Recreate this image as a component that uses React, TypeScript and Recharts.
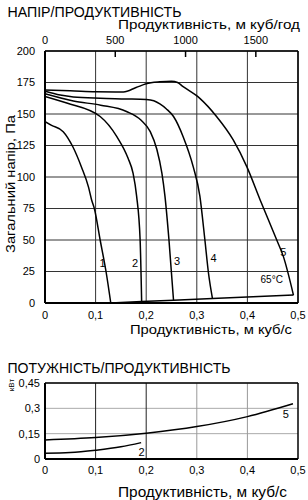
import React from 'react';
import { LineChart, Line, XAxis, YAxis, CartesianGrid, ReferenceLine, ReferenceDot } from 'recharts';

const FONT = 'Liberation Sans, Arial, sans-serif';

const flowTicks = [0, 0.1, 0.2, 0.3, 0.4, 0.5];
const flowHourTicks = [0, 500, 1000, 1500];
const flowHourMax = 1800;
const pressureTicks = [0, 25, 50, 75, 100, 125, 150, 175, 200];
const powerTicks = [0, 0.15, 0.3, 0.45];

const curve1Flow = [0, 0.013, 0.036, 0.055, 0.072, 0.086, 0.092, 0.0975, 0.109, 0.1206, 0.13];
const curve1Pressure = [144, 141, 136, 124, 108, 92, 82, 75, 50, 25, 0];

const curve2Flow = [0, 0.043, 0.109, 0.142, 0.164, 0.174, 0.181, 0.188, 0.191];
const curve2Pressure = [164, 158.7, 148, 132, 115, 103, 85, 50, 1.1];

const curve3Flow = [0, 0.056, 0.11, 0.161, 0.19, 0.208, 0.221, 0.231, 0.237, 0.245, 0.254];
const curve3Pressure = [166, 160.3, 157, 152, 145, 136, 122, 103, 85, 50, 2.2];

const curve4Flow = [0, 0.03, 0.056, 0.109, 0.16, 0.2, 0.215, 0.227, 0.24, 0.254, 0.273, 0.293, 0.306, 0.316, 0.323, 0.331];
const curve4Pressure = [168, 165, 163.5, 162.5, 162, 161.5, 160.5, 158, 154, 148, 132, 108, 85, 50, 24, 3.5];

const curve5Flow = [0, 0.05, 0.1, 0.155, 0.18, 0.2, 0.227, 0.25, 0.262, 0.273, 0.306, 0.339, 0.372, 0.399, 0.425, 0.458, 0.471, 0.491];
const curve5Pressure = [169, 168.5, 167.7, 167.5, 171, 174, 175.5, 176, 175, 171.7, 162.4, 148, 129.4, 108, 82, 50, 37, 6.3];

const systemFlow = [0.13, 0.191, 0.254, 0.331, 0.491];
const systemPressure = [0, 1.1, 2.2, 3.5, 6.3];

const power5Flow = [0, 0.1, 0.2, 0.3, 0.4, 0.49];
const power5Value = [0.113, 0.127, 0.153, 0.192, 0.251, 0.327];

const power2Flow = [0, 0.05, 0.1, 0.15, 0.19];
const power2Value = [0.034, 0.038, 0.052, 0.072, 0.097];

const curveLabels = ['1', '2', '3', '4', '5'];
const curveLabelFlow = [0.114, 0.178, 0.261, 0.333, 0.471];
const curveLabelPressure = [31.7, 32, 33.6, 35.7, 40.7];

const tempLabel = '65°C';
const tempLabelFlow = 0.448;
const tempLabelPressure = 18.3;

const powerLabels = ['5', '2'];
const powerLabelFlow = [0.476, 0.191];
const powerLabelValue = [0.267, 0.043];

const zip = (xs: number[], ys: number[]) => xs.map((x, i) => ({ x, y: ys[i] }));

const pressureCurves = [
  zip(curve1Flow, curve1Pressure),
  zip(curve2Flow, curve2Pressure),
  zip(curve3Flow, curve3Pressure),
  zip(curve4Flow, curve4Pressure),
  zip(curve5Flow, curve5Pressure),
];
const systemData = zip(systemFlow, systemPressure);
const powerCurves = [zip(power5Flow, power5Value), zip(power2Flow, power2Value)];
const hourAnchor = [{ hx: 0, y: null }, { hx: flowHourMax, y: null }];

const comma = (v: number) => String(v).replace('.', ',');

const renderTopTick = (props: any) => {
  const { x, y, payload } = props;
  return (
    <g key={`tt-${payload.value}`}>
      <text x={x} y={y} textAnchor="middle" fontSize={11} fontFamily={FONT} fill="#000">
        {payload.value}
      </text>
      {payload.value !== 0 ? (
        <line x1={x} x2={x} y1={y + 7} y2={y + 13} stroke="#000" strokeWidth={1.5} />
      ) : null}
    </g>
  );
};

const tickStyle = { fill: '#000', fontSize: 11, fontFamily: FONT };

export default function App() {
  return (
    <div style={{ position: 'absolute', left: 0, top: 0, width: 308, height: 500, background: '#fff', fontFamily: FONT }}>
      <div style={{ position: 'absolute', left: 0, top: 0 }}>
        <LineChart width={308} height={340} margin={{ top: 31, right: 10, bottom: 7, left: 10 }}>
          <CartesianGrid xAxisId="bottom" stroke="#333" strokeWidth={1} />
          <XAxis
            xAxisId="bottom"
            dataKey="x"
            type="number"
            domain={[0, 0.5]}
            ticks={flowTicks}
            tickFormatter={comma}
            height={30}
            tickLine={false}
            tickSize={6}
            tickMargin={2}
            axisLine={{ stroke: '#000', strokeWidth: 2 }}
            tick={tickStyle}
            allowDataOverflow
          />
          <XAxis
            xAxisId="top"
            orientation="top"
            dataKey="hx"
            type="number"
            domain={[0, flowHourMax]}
            ticks={flowHourTicks}
            height={20}
            tickLine={false}
            tickSize={0}
            tickMargin={7}
            axisLine={{ stroke: '#000', strokeWidth: 1.5 }}
            tick={renderTopTick}
            allowDataOverflow
          />
          <YAxis
            type="number"
            domain={[0, 200]}
            ticks={pressureTicks}
            width={35}
            tickLine={false}
            tickSize={6}
            tickMargin={4}
            axisLine={{ stroke: '#000', strokeWidth: 2 }}
            tick={tickStyle}
            allowDataOverflow
          />
          <Line
            xAxisId="top"
            data={hourAnchor}
            dataKey="y"
            stroke="none"
            dot={false}
            activeDot={false}
            legendType="none"
            isAnimationActive={false}
          />
          <ReferenceLine xAxisId="bottom" x={0.5} stroke="#000" strokeWidth={1.5} />
          {pressureCurves.map((d, i) => (
            <Line
              key={i}
              xAxisId="bottom"
              data={d}
              dataKey="y"
              type="monotone"
              stroke="#000"
              strokeWidth={1.5}
              dot={false}
              isAnimationActive={false}
            />
          ))}
          <Line
            xAxisId="bottom"
            data={systemData}
            dataKey="y"
            type="linear"
            stroke="#000"
            strokeWidth={1.5}
            dot={false}
            isAnimationActive={false}
          />
          {curveLabels.map((l, i) => (
            <ReferenceDot
              key={l}
              xAxisId="bottom"
              x={curveLabelFlow[i]}
              y={curveLabelPressure[i]}
              r={0}
              fill="none"
              stroke="none"
              label={{ value: l, position: 'center', fontSize: 11, fill: '#000', fontFamily: FONT }}
            />
          ))}
          <ReferenceDot
            xAxisId="bottom"
            x={tempLabelFlow}
            y={tempLabelPressure}
            r={0}
            fill="none"
            stroke="none"
            label={{ value: tempLabel, position: 'center', fontSize: 10, fill: '#000', fontFamily: FONT }}
          />
        </LineChart>
      </div>
      <div style={{ position: 'absolute', left: 0, top: 350 }}>
        <LineChart width={308} height={150} margin={{ top: 33, right: 10, bottom: 21, left: 10 }}>
          <CartesianGrid stroke="#aaa" vertical={false} />
          <XAxis
            dataKey="x"
            type="number"
            domain={[0, 0.5]}
            ticks={flowTicks}
            tickFormatter={comma}
            height={20}
            tickLine={false}
            tickSize={6}
            tickMargin={1}
            axisLine={{ stroke: '#000', strokeWidth: 2 }}
            tick={tickStyle}
            allowDataOverflow
          />
          <YAxis
            type="number"
            domain={[0, 0.45]}
            ticks={powerTicks}
            tickFormatter={comma}
            width={35}
            tickLine={false}
            tickSize={5}
            tickMargin={0}
            axisLine={{ stroke: '#000', strokeWidth: 2 }}
            tick={tickStyle}
            allowDataOverflow
          />
          <ReferenceLine x={0.1} stroke="#222" />
          <ReferenceLine x={0.2} stroke="#222" />
          <ReferenceLine x={0.3} stroke="#999" />
          <ReferenceLine x={0.4} stroke="#999" />
          <ReferenceLine x={0.5} stroke="#000" strokeWidth={1.5} />
          <ReferenceLine y={0.45} stroke="#000" strokeWidth={1.5} />
          {powerCurves.map((d, i) => (
            <Line
              key={i}
              data={d}
              dataKey="y"
              type="monotone"
              stroke="#000"
              strokeWidth={1.5}
              dot={false}
              isAnimationActive={false}
            />
          ))}
          {powerLabels.map((l, i) => (
            <ReferenceDot
              key={l}
              x={powerLabelFlow[i]}
              y={powerLabelValue[i]}
              r={0}
              fill="none"
              stroke="none"
              label={{ value: l, position: 'center', fontSize: 11, fill: '#000', fontFamily: FONT }}
            />
          ))}
        </LineChart>
      </div>
      <svg width={308} height={500} style={{ position: 'absolute', left: 0, top: 0, pointerEvents: 'none' }}>
        <text x={7.5} y={17.3} fontSize={14.5} fontFamily={FONT} textLength={174} lengthAdjust="spacingAndGlyphs">НАПІР/ПРОДУКТИВНІСТЬ</text>
        <text x={118} y={29.3} fontSize={12.5} fontFamily={FONT} textLength={182} lengthAdjust="spacingAndGlyphs">Продуктивність, м куб/год</text>
        <text x={130} y={334.3} fontSize={13.5} fontFamily={FONT} textLength={162} lengthAdjust="spacingAndGlyphs">Продуктивність, м куб/с</text>
        <text x={14.5} y={184} fontSize={13} fontFamily={FONT} textAnchor="middle" transform="rotate(-90 14.5 184)" textLength={138} lengthAdjust="spacingAndGlyphs">Загальний напір, Па</text>
        <text x={7.5} y={373.3} fontSize={14} fontFamily={FONT} textLength={223} lengthAdjust="spacingAndGlyphs">ПОТУЖНІСТЬ/ПРОДУКТИВНІСТЬ</text>
        <text x={13.5} y={385} fontSize={8} fontFamily={FONT} textAnchor="middle" transform="rotate(-90 13.5 385)">кВт</text>
        <text x={118} y={497} fontSize={14.5} fontFamily={FONT} textLength={169} lengthAdjust="spacingAndGlyphs">Продуктивність, м куб/с</text>
      </svg>
    </div>
  );
}
